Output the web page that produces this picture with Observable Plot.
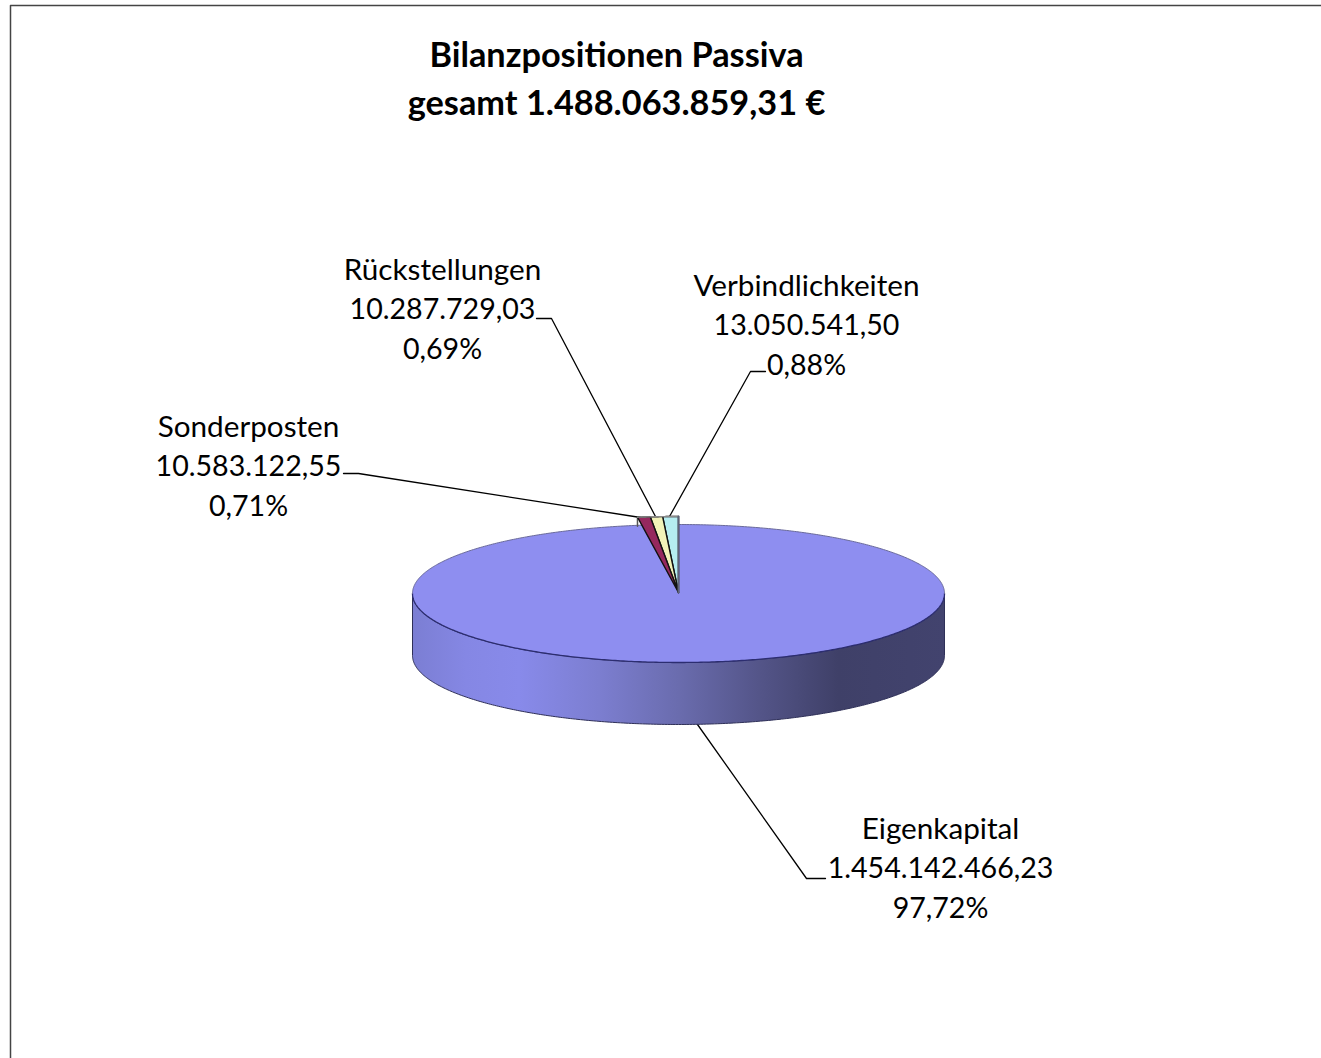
<!DOCTYPE html>
<html><head><meta charset="utf-8">
<script src="https://cdn.jsdelivr.net/npm/d3@7"></script>
<script src="https://cdn.jsdelivr.net/npm/@observablehq/plot@0.6"></script>
<style>html,body{margin:0;background:#fff}svg{display:block}</style>
</head><body><div id="chart"></div>
<script>
const categories = ["Eigenkapital","Sonderposten","Rückstellungen","Verbindlichkeiten"];
const amounts = ["1.454.142.466,23","10.583.122,55","10.287.729,03","13.050.541,50"];
const percents = ["97,72%","0,71%","0,69%","0,88%"];
const shares = [97.72,0.71,0.69,0.88];
const fills = ["#8E8EF0","#95285E","#F2F2B8","#B5EDF0"];
const titleLines = ["Bilanzpositionen Passiva","gesamt 1.488.063.859,31 €"];

// page layout, in the chart's 1321×1058 frame
const W = 1321, H = 1058;
const cx = 678, cy = 593, rx = 266, ry = 69, depth = 62, lift = 8, spread = 1.08;
const font = "Lato, Carlito, Calibri, sans-serif";

// a point on the pie's rim: angle runs clockwise from 12 o'clock
const rim = (a, dy = 0, k = 1) => ({x: cx + k*rx*Math.sin(a), y: cy - ry*Math.cos(a) + dy});
const arc = (a0, a1, dy = 0, n = 160, k = 1) => d3.range(n+1).map(i => rim(a0 + (a1-a0)*i/n, dy, k));

// angles from the values: Verbindlichkeiten sits just left of 12 o'clock, going anticlockwise
let acc = 0;
const angle = {};
[3,2,1].forEach(i => { const a0 = -acc; acc += shares[i]/100*2*Math.PI; angle[i] = [a0, -acc]; });
const gap = acc;

const disc = arc(0, 2*Math.PI, 0, 500);
const side = [...arc(Math.PI/2, 3*Math.PI/2, 0, 300), ...arc(3*Math.PI/2, Math.PI/2, depth, 300)];
const tip = {x: cx, y: cy - 1};
const wedges = [3,2,1].map(i => [tip, ...arc(angle[i][0], angle[i][1], -lift, 8, spread)]);
const corner = rim(-gap, -lift, spread);

const sideId = "pieSide";
const defsMark = () => {
  const d = d3.create("svg:defs");
  const g = d.append("linearGradient").attr("id", sideId)
    .attr("gradientUnits","userSpaceOnUse").attr("x1",cx-rx).attr("x2",cx+rx).attr("y1",0).attr("y2",0);
  [[0,"#7B7ED3"],[.1,"#8587E4"],[.2,"#888AEA"],[.35,"#7C7ED0"],[.5,"#6A6CAE"],[.65,"#545589"],[.8,"#3F4068"],[1,"#42436E"]]
    .forEach(([o,c]) => g.append("stop").attr("offset",o).attr("stop-color",c));
  return d.node();
};

const leaders = [
  [{x:697,y:724},{x:806,y:878},{x:825,y:878}],
  [{x:343,y:473},{x:358,y:473},{x:640,y:517}],
  [{x:536,y:318},{x:551,y:318},{x:655,y:516}],
  [{x:765,y:371},{x:750,y:371},{x:669,y:516}]
];
const labelPos = [[940,829],[248,427],[442,270],[806,286]];
const labels = categories.flatMap((c,i) => [c,amounts[i],percents[i]].map((t,k) => ({
  t, k, x: labelPos[i][0], y: labelPos[i][1] + k*39.7
})));
const names = labels.filter(d => d.k === 0);
const figures = labels.filter(d => d.k > 0);

const lineStyle = {x:"x", y:"y", strokeWidth:1.3};
const poly = (pts, fill, stroke, sw=1) => Plot.line([...pts, pts[0]], {x:"x", y:"y", fill, stroke, strokeWidth:sw, strokeLinejoin:"round"});
const textStyle = {x:"x", y:"y", text:"t", fill:"#000", fontFamily:font, textAnchor:"middle"};

const chart = Plot.plot({
  width: W, height: H, margin: 0,
  x: {domain:[0,W], range:[0,W], axis:null},
  y: {domain:[0,H], range:[0,H], axis:null},
  style: {background:"#fff", fontFamily:font},
  marks: [
    defsMark,
    Plot.line([{x:10,y:1058},{x:10,y:5},{x:1321,y:5}], {x:"x",y:"y",stroke:"#444",strokeWidth:1.5}),
    ...leaders.map(l => Plot.line(l, {...lineStyle, stroke:"#000"})),
    poly(side, `url(#${sideId})`, "#2f3058", 1),
    poly(disc, fills[0], "none"),
    Plot.line(arc(Math.PI/2, 3*Math.PI/2, 0, 300), {...lineStyle, stroke:"#2c2d70"}),
    Plot.line(arc(-Math.PI/2, Math.PI/2, 0, 300), {...lineStyle, stroke:"#6a6a9a", strokeWidth:1}),
    Plot.line([corner, {x:corner.x, y:corner.y+9}], {...lineStyle, stroke:"#555", strokeWidth:1.5}),
    ...wedges.map((w,j) => poly(w, fills[3-j], "#111", 1.4)),
    Plot.line(arc(-gap, 0, -lift, 30, spread), {...lineStyle, stroke:"#8a8a8a", strokeWidth:1.4}),
    Plot.line([{x:cx,y:cy-lift-69},{x:cx,y:cy-1}], {...lineStyle, stroke:"#5f6478", strokeWidth:2}),
    Plot.text(names, {...textStyle, fontSize:29.7}),
    Plot.text(figures, {...textStyle, fontSize:28.6}),
    Plot.text(titleLines.map((t,k)=>({t,x:616,y:56+k*47.5})), {...textStyle, fontSize:34.3, fontWeight:700})
  ]
});
document.getElementById("chart").append(chart);
</script></body></html>
